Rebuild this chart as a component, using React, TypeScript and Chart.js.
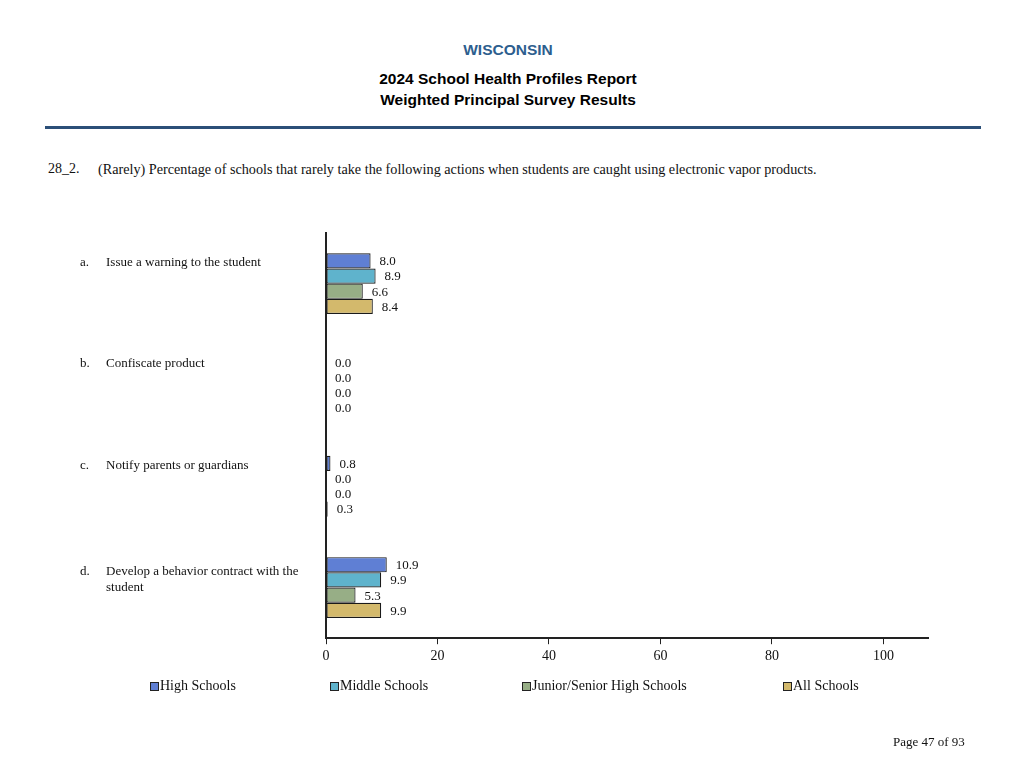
import React, { useEffect, useRef } from "react";
import { Chart, registerables } from "chart.js";

Chart.register(...registerables);

const categoryLetters = ["a.", "b.", "c.", "d."];
const categoryLabels: string[][] = [
  ["Issue a warning to the student"],
  ["Confiscate product"],
  ["Notify parents or guardians"],
  ["Develop a behavior contract with the", "student"],
];
const seriesNames = ["High Schools", "Middle Schools", "Junior/Senior High Schools", "All Schools"];
const highSchools = [8.0, 0.0, 0.8, 10.9];
const middleSchools = [8.9, 0.0, 0.0, 9.9];
const juniorSenior = [6.6, 0.0, 0.0, 5.3];
const allSchools = [8.4, 0.0, 0.3, 9.9];
const seriesColors = ["#5f7fd4", "#5fb3cc", "#97ae86", "#d3b96c"];
const xTicks = [0, 20, 40, 60, 80, 100];

const SERIF = "'Liberation Serif', 'Times New Roman', serif";
const SANS = "'Liberation Sans', Arial, sans-serif";

const labelPlugin = {
  id: "customLabels",
  afterDatasetsDraw(chart: any) {
    const ctx = chart.ctx;
    ctx.save();
    ctx.font = `13px ${SERIF}`;
    ctx.fillStyle = "#111";
    ctx.textBaseline = "middle";
    // value labels
    chart.data.datasets.forEach((ds: any, di: number) => {
      const meta = chart.getDatasetMeta(di);
      meta.data.forEach((bar: any, i: number) => {
        const v = ds.data[i];
        ctx.textAlign = "left";
        ctx.fillText(v.toFixed(1), bar.x + 9, bar.y + 1);
      });
    });
    // category labels
    const yScale = chart.scales.y;
    categoryLabels.forEach((lines, i) => {
      const c = yScale.getPixelForValue(i);
      const first = c - 21 + (lines.length - 1) * 5;
      ctx.textAlign = "left";
      ctx.fillText(categoryLetters[i], 80, first);
      lines.forEach((ln, k) => ctx.fillText(ln, 106, first + k * 16));
    });
    ctx.restore();
  },
};

function ChartCanvas() {
  const ref = useRef<HTMLCanvasElement>(null);
  useEffect(() => {
    if (!ref.current) return;
    const seriesData = [highSchools, middleSchools, juniorSenior, allSchools];
    const chart = new Chart(ref.current, {
      type: "bar",
      data: {
        labels: categoryLetters,
        datasets: seriesData.map((d, i) => ({
          label: seriesNames[i],
          data: d,
          backgroundColor: seriesColors[i],
          borderColor: "#1a1a1a",
          borderWidth: 1.2,
          borderSkipped: false,
          categoryPercentage: 0.6,
          barPercentage: 1.0,
        })),
      },
      options: {
        indexAxis: "y",
        animation: false,
        responsive: false,
        maintainAspectRatio: false,
        events: [],
        layout: { padding: { left: 326, right: 96, top: 233, bottom: 99 } },
        plugins: { legend: { display: false }, tooltip: { enabled: false }, title: { display: false } },
        scales: {
          x: {
            type: "linear",
            min: 0,
            max: 108,
            afterBuildTicks: (scale: any) => {
              scale.ticks = xTicks.map((v) => ({ value: v }));
            },
            grid: { display: true, drawOnChartArea: false, drawTicks: true, tickLength: 6, color: "#222", lineWidth: 1 },
            border: { display: true, color: "#222", width: 2 },
            ticks: { color: "#111", font: { family: SERIF, size: 14 }, padding: 4, maxRotation: 0 },
          },
          y: {
            type: "category",
            grid: { display: true, drawOnChartArea: false, drawTicks: false },
            border: { display: true, color: "#222", width: 2 },
            ticks: { display: false },
          },
        },
      },
      plugins: [labelPlugin],
    } as any);
    return () => chart.destroy();
  }, []);
  return <canvas ref={ref} width={1024} height={768} style={{ position: "absolute", left: 0, top: 0, width: 1024, height: 768 }} />;
}

export default function App() {
  const legendX = [150, 330, 522, 783];
  return (
    <div style={{ position: "absolute", left: 0, top: 0, width: 1024, height: 768, background: "#fff", overflow: "hidden" }}>
      <div style={{ position: "absolute", left: 0, width: 1016, top: 41, textAlign: "center", fontFamily: SANS, fontWeight: "bold", fontSize: 15.5, color: "#2d5e8e" }}>WISCONSIN</div>
      <div style={{ position: "absolute", left: 0, width: 1016, top: 68, textAlign: "center", fontFamily: SANS, fontWeight: "bold", fontSize: 15.5, color: "#000", lineHeight: "21px" }}>
        2024 School Health Profiles Report
        <br />
        Weighted Principal Survey Results
      </div>
      <div style={{ position: "absolute", left: 45, width: 936, top: 126, height: 3, background: "#2b4f78" }} />
      <div style={{ position: "absolute", left: 48, top: 161, fontFamily: SERIF, fontSize: 14, color: "#111", whiteSpace: "nowrap" }}>28_2.</div>
      <div style={{ position: "absolute", left: 98, top: 161, fontFamily: SERIF, fontSize: 14.2, color: "#111", whiteSpace: "nowrap" }}>
        (Rarely) Percentage of schools that rarely take the following actions when students are caught using electronic vapor products.
      </div>
      <ChartCanvas />
      {seriesNames.map((n, i) => (
        <div key={n} style={{ position: "absolute", left: legendX[i], top: 678, display: "flex", alignItems: "center", fontFamily: SERIF, fontSize: 14, color: "#111", whiteSpace: "nowrap" }}>
          <span style={{ display: "inline-block", width: 7, height: 7, background: seriesColors[i], border: "1px solid #222", marginRight: 1 }} />
          <span>{n}</span>
        </div>
      ))}
      <div style={{ position: "absolute", left: 893, top: 734, fontFamily: SERIF, fontSize: 13, color: "#111", whiteSpace: "nowrap" }}>Page 47 of 93</div>
    </div>
  );
}
